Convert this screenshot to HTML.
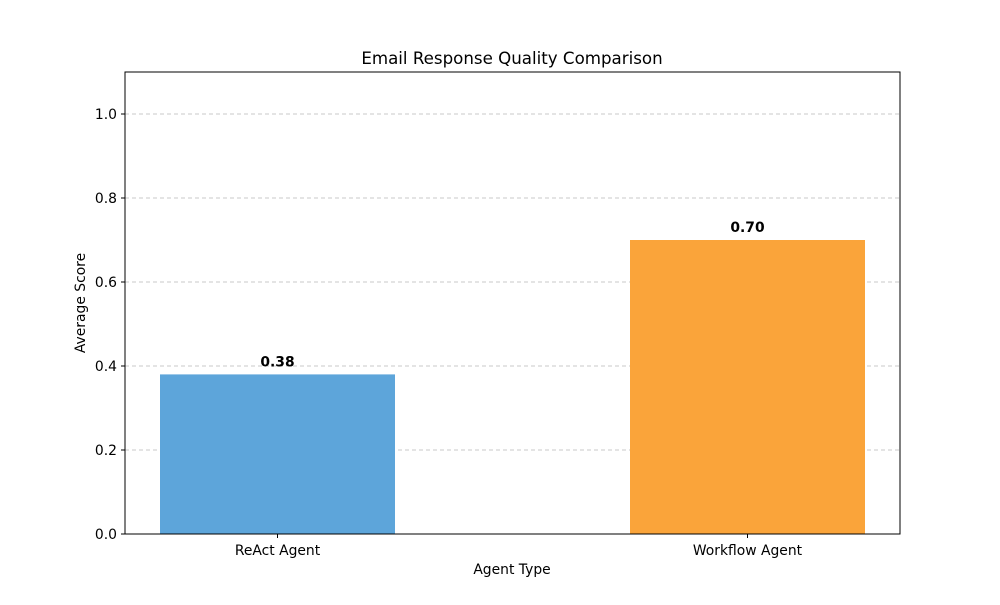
<!DOCTYPE html>
<html><head><meta charset="utf-8"><style>
body{margin:0;background:#fff;}
svg text{font-family:"DejaVu Sans","Liberation Sans",sans-serif;}
</style></head><body>
<svg id="chart" width="1000" height="600" xmlns="http://www.w3.org/2000/svg">
<rect width="1000" height="600" fill="#fff"/>
<g id="grid"></g><g id="bars"></g><g id="labels"></g><g id="ticks"></g>
<rect x="125" y="72" width="775" height="462" fill="none" stroke="#000" stroke-width="1"/>
<text x="512" y="64" text-anchor="middle" font-size="16.67">Email Response Quality Comparison</text>
<text x="512" y="574" text-anchor="middle" font-size="13.89">Agent Type</text>
<text x="85" y="303" text-anchor="middle" font-size="13.89" transform="rotate(-90 85 303)">Average Score</text>
</svg>
<script>
const categories = ["ReAct Agent", "Workflow Agent"];
const scores = [0.38, 0.70];
const valueLabels = ["0.38", "0.70"];
const yTicks = [0.0, 0.2, 0.4, 0.6, 0.8, 1.0];
const colors = ["#5DA5DA", "#FAA43A"];

const NS = "http://www.w3.org/2000/svg";
const L = 125, R = 900, T = 72, B = 534;
const yMax = 1.1;
function y(v){ return B - v / yMax * (B - T); }
const unit = 470, x0 = 277.5;
function x(i){ return x0 + i * unit; }
const barW = 0.5 * unit;
function mk(tag, attrs, parent){ const e = document.createElementNS(NS, tag); for (const k in attrs) e.setAttribute(k, attrs[k]); parent.appendChild(e); return e; }
const grid = document.getElementById('grid'), bars = document.getElementById('bars'), labels = document.getElementById('labels'), ticks = document.getElementById('ticks');
yTicks.forEach(t => {
  const yy = y(t);
  if (t > 0) {
    const g = mk('line', {x1: L, x2: R, y1: yy, y2: yy, stroke: '#c8c8c8', 'stroke-dasharray': '4,3', 'stroke-width': 1}, grid);
    
    
  }
  const tk = mk('line', {x1: L - 4, x2: L, y1: yy, y2: yy, stroke: '#000'}, ticks);
  
  
  const tl = mk('text', {x: L - 8, y: yy + 5, 'text-anchor': 'end', 'font-size': 13.89}, ticks);
  tl.textContent = t.toFixed(1);
  
  
});
categories.forEach((c, i) => {
  const cx = x(i);
  const b = mk('rect', {x: cx - barW/2, y: y(scores[i]), width: barW, height: B - y(scores[i]), fill: colors[i]}, bars);
  
  
  const v = mk('text', {x: cx, y: y(scores[i]) - 8, 'text-anchor': 'middle', 'font-size': 13.89, 'font-weight': 'bold'}, labels);
  v.textContent = valueLabels[i];
  
  
  const tk = mk('line', {x1: cx, x2: cx, y1: B, y2: B + 4, stroke: '#000'}, ticks);
  
  
  const tl = mk('text', {x: cx, y: B + 21, 'text-anchor': 'middle', 'font-size': 13.89}, ticks);
  tl.textContent = c;
  
  
});
</script>
</body></html>
